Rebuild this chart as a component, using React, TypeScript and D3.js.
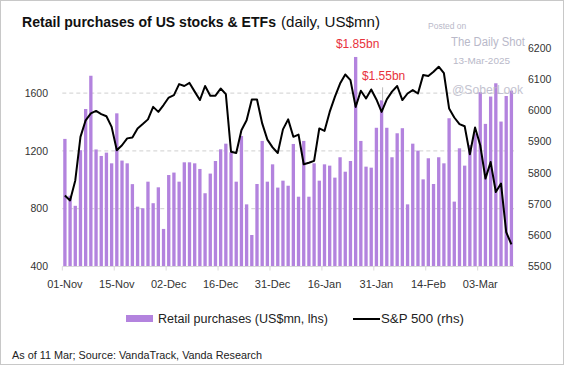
import React from "react";
import * as d3 from "d3";

// trading days, 01-Nov-2024 .. 11-Mar-2025
const dates = [
  "01-Nov", "04-Nov", "05-Nov", "06-Nov", "07-Nov", "08-Nov", "11-Nov", "12-Nov", "13-Nov", "14-Nov",
  "15-Nov", "18-Nov", "19-Nov", "20-Nov", "21-Nov", "22-Nov", "25-Nov", "26-Nov", "27-Nov", "29-Nov",
  "02-Dec", "03-Dec", "04-Dec", "05-Dec", "06-Dec", "09-Dec", "10-Dec", "11-Dec", "12-Dec", "13-Dec",
  "16-Dec", "17-Dec", "18-Dec", "19-Dec", "20-Dec", "23-Dec", "24-Dec", "26-Dec", "27-Dec", "30-Dec",
  "31-Dec", "02-Jan", "03-Jan", "06-Jan", "07-Jan", "08-Jan", "10-Jan", "13-Jan", "14-Jan", "15-Jan",
  "16-Jan", "17-Jan", "21-Jan", "22-Jan", "23-Jan", "24-Jan", "27-Jan", "28-Jan", "29-Jan", "30-Jan",
  "31-Jan", "03-Feb", "04-Feb", "05-Feb", "06-Feb", "07-Feb", "10-Feb", "11-Feb", "12-Feb", "13-Feb",
  "14-Feb", "18-Feb", "19-Feb", "20-Feb", "21-Feb", "24-Feb", "25-Feb", "26-Feb", "27-Feb", "28-Feb",
  "03-Mar", "04-Mar", "05-Mar", "06-Mar", "07-Mar", "10-Mar", "11-Mar",
];

// retail purchases, US$mn (lhs)
const retail = [
  1283, 890, 820, 1205, 1490, 1720, 1210, 1165, 1188, 1114,
  1460, 1133, 1114, 970, 814, 803, 987, 838, 948, 660,
  1033, 1050, 987, 1121, 1121, 1114, 1075, 907, 1043, 1130,
  1211, 1250, 1190, 987, 1303, 830, 618, 971, 1269, 987,
  1107, 946, 994, 959, 1248, 883, 1269, 883, 1114, 994,
  1107, 1098, 1015, 1156, 1056, 1130, 1850, 1269, 1091, 1084,
  1360, 1550, 1360, 1156, 1322, 1357, 830, 1250, 1202, 1003,
  1149, 971, 1156, 1114, 1426, 849, 1218, 1098, 1240, 1320,
  1606, 1387, 1576, 1668, 1403, 1580, 1617,
];

// S&P 500 (rhs)
const spx = [
  5728, 5712, 5776, 5916, 5969, 5991, 5999, 5989, 5982, 5948,
  5873, 5889, 5911, 5914, 5943, 5957, 5972, 6012, 5996, 6018,
  6042, 6050, 6085, 6079, 6089, 6061, 6034, 6079, 6048, 6048,
  6071, 6053, 5868, 5864, 5937, 5969, 6036, 6036, 5959, 5907,
  5882, 5864, 5940, 5972, 5916, 5923, 5828, 5833, 5839, 5943,
  5935, 5996, 6044, 6087, 6116, 6098, 6012, 6064, 6039, 6068,
  6036, 5996, 6036, 6061, 6079, 6034, 6055, 6066, 6055, 6114,
  6111, 6125, 6141, 6120, 6007, 5978, 5957, 5950, 5860, 5946,
  5889, 5782, 5835, 5739, 5766, 5610, 5571,
];

const leftTicks = [400, 800, 1200, 1600];
const rightTicks = [5500, 5600, 5700, 5800, 5900, 6000, 6100, 6200];
const labelEvery = 10;
const callouts = [
  { date: "27-Jan", text: "$1.85bn", lift: 9 },
  { date: "03-Feb", text: "$1.55bn", lift: 20 },
];

const FONT = "'Liberation Sans Narrow', 'Liberation Sans', Arial, sans-serif";
const PURPLE = "#b383de";
const RED = "#e8323c";
const WM = "#b9b9c9";

const App = () => {
  const width = 564;
  const height = 365;
  const left = 62.3;
  const right = 514;
  const top = 48.3;
  const bottom = 266.5;

  const x = d3.scaleBand<string>().domain(dates).range([left, right])
    .paddingInner(0.36).paddingOuter(0.18);
  const yL = d3.scaleLinear().domain([400, 1910]).range([bottom, top]);
  const yR = d3.scaleLinear().domain([5500, 6200]).range([bottom, top]);
  const bw = x.bandwidth();
  const gap = x.step() * 0.18;

  const line = d3.line<number>()
    .x((d, i) => (x(dates[i]) as number) + bw / 2)
    .y((d) => yR(d));

  return (
    <svg width={width} height={height} style={{ position: "absolute", left: 0, top: 0, background: "#fff" }}
      fontFamily={FONT}>
      <rect x={0.5} y={0.5} width={width - 1} height={height - 1} fill="#fff" stroke="#c8c8c8" />

      <text x={22} y={27} fontSize={15} fontWeight="bold" fill="#111" textLength={254} lengthAdjust="spacingAndGlyphs">
        Retail purchases of US stocks &amp; ETFs
      </text>
      <text x={281} y={27} fontSize={15} fill="#111" textLength={99} lengthAdjust="spacingAndGlyphs">
        (daily, US$mn)
      </text>

      {/* gridlines */}
      {leftTicks.filter((t) => t > 400).map((t) => (
        <line key={t} x1={left} x2={right} y1={yL(t)} y2={yL(t)} stroke="#cfcfcf" strokeDasharray="4,3" />
      ))}

      {/* bars */}
      {retail.map((v, i) => (
        <rect key={i} x={x(dates[i])} y={yL(v)} width={bw} height={yL(400) - yL(v)} fill={PURPLE} />
      ))}

      {/* x axis */}
      <line x1={left} x2={right} y1={bottom} y2={bottom} stroke="#d9d9d9" />
      {dates.map((d, i) => i % labelEvery === 0 ? (
        <g key={d}>
          <line x1={(x(d) as number) - gap} x2={(x(d) as number) - gap} y1={bottom} y2={bottom + 4} stroke="#d9d9d9" />
          <text x={(x(d) as number) + bw / 2} y={288} fontSize={11} textAnchor="middle" fill="#333">{d}</text>
        </g>
      ) : null)}

      {/* left axis */}
      {leftTicks.map((t) => (
        <text key={t} x={48} y={yL(t)} dy="0.35em" fontSize={10.5} textAnchor="end" fill="#333">{t}</text>
      ))}
      {/* right axis */}
      {rightTicks.map((t) => (
        <text key={t} x={528} y={yR(t)} dy="0.35em" fontSize={10.5} fill="#333">{t}</text>
      ))}

      <path d={line(spx) || ""} fill="none" stroke="#000" strokeWidth={2} strokeLinejoin="round" />

      {/* callouts */}
      {callouts.map((c) => {
        const cx = (x(c.date) as number) + bw / 2;
        const v = retail[dates.indexOf(c.date)];
        const ty = yL(v) - c.lift;
        return (
          <g key={c.date}>
            {c.lift > 12 ? (
              <line x1={cx + 1} x2={cx + 1} y1={ty + 7} y2={yL(v)} stroke="#bbb" />
            ) : null}
            <text x={cx + 2} y={ty} fontSize={12} fill={RED} textAnchor="middle">{c.text}</text>
          </g>
        );
      })}

      {/* watermark */}
      <g fill={WM} fontFamily="'Liberation Sans', Arial, sans-serif">
        <text x={428} y={29} fontSize={8.5}>Posted on</text>
        <text x={451} y={46} fontSize={12.5} textLength={74} lengthAdjust="spacingAndGlyphs">The Daily Shot</text>
        <text x={453} y={64} fontSize={9} textLength={57} lengthAdjust="spacingAndGlyphs">13-Mar-2025</text>
        <text x={452} y={94} fontSize={13} opacity={0.85} textLength={71} lengthAdjust="spacingAndGlyphs">@SoberLook</text>
      </g>

      {/* legend */}
      <rect x={126} y={315} width={27} height={7} fill={PURPLE} />
      <text x={158} y={323} fontSize={12} fill="#222" textLength={170} lengthAdjust="spacingAndGlyphs">
        Retail purchases (US$mn, lhs)
      </text>
      <line x1={353} x2={380} y1={319} y2={319} stroke="#000" strokeWidth={2} />
      <text x={381} y={323} fontSize={12} fill="#222" textLength={83} lengthAdjust="spacingAndGlyphs">
        S&amp;P 500 (rhs)
      </text>

      <text x={12} y={359} fontSize={10.5} fill="#222" textLength={250} lengthAdjust="spacingAndGlyphs">
        As of 11 Mar; Source: VandaTrack, Vanda Research
      </text>
    </svg>
  );
};

export default App;
